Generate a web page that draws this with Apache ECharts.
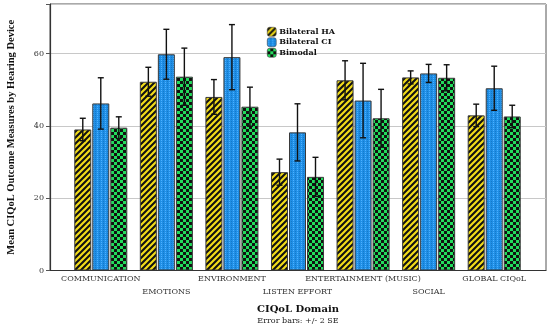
<!DOCTYPE html>
<html><head><meta charset="utf-8">
<script src="https://cdn.jsdelivr.net/npm/echarts@6/dist/echarts.min.js"></script>
<style>html,body{margin:0;padding:0;background:#fff}#c{width:550px;height:327px}</style>
</head><body><div id="c"></div>
<script>
// ---- data ----
var categories = ['COMMUNICATION','EMOTIONS','ENVIRONMENT','LISTEN EFFORT','ENTERTAINMENT (MUSIC)','SOCIAL','GLOBAL CIQoL'];
var seriesNames = ['Bilateral HA','Bilateral CI','Bimodal'];
var haMean = [39.0, 52.2, 48.0, 27.2, 52.6, 53.4, 42.9];
var haErr  = [3.1, 4.0, 4.8, 3.6, 5.4, 1.8, 3.1];
var ciMean = [46.2, 59.8, 59.0, 38.2, 47.0, 54.5, 50.4];
var ciErr  = [7.1, 6.9, 9.0, 7.9, 10.3, 2.5, 6.1];
var bmMean = [39.5, 53.6, 45.3, 25.9, 42.1, 53.3, 42.6];
var bmErr  = [3.0, 7.9, 5.4, 5.4, 8.0, 3.6, 3.1];
var yTicks = [0, 20, 40, 60];

// ---- patterns ----
function tile(w, h, draw) { var c = document.createElement('canvas'); c.width = w; c.height = h; draw(c.getContext('2d'), w, h); return c; }
var haPat = tile(6, 6, function (g, w, h) {
  g.fillStyle = '#111'; g.fillRect(0, 0, w, h);
  g.strokeStyle = '#f2dc1a'; g.lineWidth = 2.2;
  g.beginPath(); g.moveTo(-1, h + 1); g.lineTo(w + 1, -1);
  g.moveTo(-1, 1); g.lineTo(1, -1);
  g.moveTo(w - 1, h + 1); g.lineTo(w + 1, h - 1); g.stroke();
});
var ciPat = tile(4, 4, function (g, w, h) {
  g.fillStyle = '#1f8fe6'; g.fillRect(0, 0, w, h);
  g.fillStyle = '#4fb0ff'; g.fillRect(1, 0, 1, 1); g.fillRect(1, 2, 1, 1);
  g.fillStyle = '#1778c8'; g.fillRect(3, 1, 1, 1); g.fillRect(3, 3, 1, 1);
});
var bmPat = tile(6, 6, function (g, w, h) {
  g.fillStyle = '#111'; g.fillRect(0, 0, w, h);
  g.fillStyle = '#22dc5c'; g.fillRect(0, 0, 3, 3); g.fillRect(3, 3, 3, 3);
});
var fills = [{ image: haPat, repeat: 'repeat' }, { image: ciPat, repeat: 'repeat' }, { image: bmPat, repeat: 'repeat' }];
var means = [haMean, ciMean, bmMean];
var errs = [haErr, ciErr, bmErr];

var BW = 17, STEP = 18;
var serif = 'DejaVu Serif';

var series = [];
seriesNames.forEach(function (name, i) {
  series.push({
    name: name, type: 'bar', xAxisIndex: 1, yAxisIndex: 1,
    barWidth: BW, barGap: '6%',
    itemStyle: { color: fills[i], borderColor: '#3a3a3a', borderWidth: 1 },
    data: means[i]
  });
});
seriesNames.forEach(function (name, i) {
  series.push({
    type: 'custom', xAxisIndex: 1, yAxisIndex: 1, z: 5, silent: true,
    data: means[i].map(function (m, k) { return [k, m - errs[i][k], m + errs[i][k]]; }),
    renderItem: function (params, api) {
      var lo = api.coord([api.value(0), api.value(1)]);
      var hi = api.coord([api.value(0), api.value(2)]);
      var x = lo[0] + (i - 1) * STEP;
      var cap = 3;
      var st = { stroke: '#111', lineWidth: 1.4 };
      return { type: 'group', children: [
        { type: 'line', shape: { x1: x, y1: lo[1], x2: x, y2: hi[1] }, style: st },
        { type: 'line', shape: { x1: x - cap, y1: hi[1], x2: x + cap, y2: hi[1] }, style: st },
        { type: 'line', shape: { x1: x - cap, y1: lo[1], x2: x + cap, y2: lo[1] }, style: st }
      ]};
    }
  });
});

var YMAX = 73.7;
var chart = echarts.init(document.getElementById('c'));
chart.setOption({
  animation: false,
  backgroundColor: '#fff',
  grid: [
    { left: 50, right: 4, top: 4, bottom: 56.5, show: true, borderColor: '#555', borderWidth: 1, outerBoundsMode: 'none', containLabel: false },
    { left: 68, right: 23, top: 4, bottom: 56.5, outerBoundsMode: 'none', containLabel: false }
  ],
  legend: {
    data: seriesNames, orient: 'vertical', left: 267, top: 27,
    itemWidth: 9, itemHeight: 9, itemGap: 1, padding: 0,
    textStyle: { fontFamily: serif, fontSize: 8, fontWeight: 'bold', color: '#111', padding: [0, 0, 0, -2] },
    itemStyle: { borderColor: '#333', borderWidth: 0.5 }
  },
  xAxis: [
    { type: 'value', gridIndex: 0, min: 0, max: 1, axisLine: { show: true, lineStyle: { color: '#333' } },
      axisTick: { show: false }, axisLabel: { show: false }, splitLine: { show: false },
      name: '{a|CIQoL Domain}\n{b|Error bars: +/- 2 SE}', nameLocation: 'middle', nameGap: 33,
      nameTextStyle: { rich: {
        a: { fontFamily: serif, fontSize: 10, fontWeight: 'bold', color: '#111', lineHeight: 12 },
        b: { fontFamily: serif, fontSize: 8, color: '#222', lineHeight: 10 } } } },
    { type: 'category', gridIndex: 1, data: categories,
      axisLine: { show: false }, axisTick: { show: false },
      axisLabel: { interval: 0, margin: 2, fontFamily: serif, fontSize: 8, color: '#333', lineHeight: 13,
        formatter: function (v, idx) { return idx % 2 ? '\n' + v : v; } } }
  ],
  yAxis: [
    { type: 'value', gridIndex: 0, min: 0, max: YMAX, interval: 20,
      axisLine: { show: true, lineStyle: { color: '#333', width: 1.2 } },
      axisTick: { show: true, length: 4, lineStyle: { color: '#555' } },
      axisLabel: { fontFamily: serif, fontSize: 8, color: '#333', margin: 6,
        formatter: function (v) { return yTicks.indexOf(v) >= 0 ? String(v) : ''; } },
      splitLine: { lineStyle: { color: '#c8c8c8', width: 1 } },
      name: 'Mean CIQoL Outcome Measures by Hearing Device', nameLocation: 'middle', nameGap: 33, nameRotate: 90,
      nameTextStyle: { fontFamily: 'Liberation Serif', fontSize: 10.5, fontWeight: 'bold', color: '#111' } },
    { type: 'value', gridIndex: 1, min: 0, max: YMAX, show: false, splitLine: { show: false } }
  ],
  series: series
});
</script></body></html>
